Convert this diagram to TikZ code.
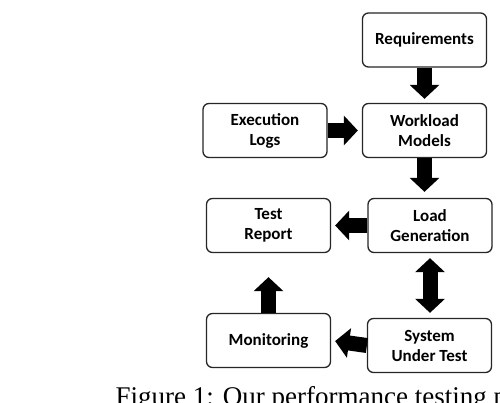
\documentclass[tikz,border=0pt]{standalone}
\usepackage{fontspec}
\setmainfont{Carlito}
\newfontfamily\capfont{Liberation Serif}
\usetikzlibrary{arrows.meta}

\begin{document}
\begin{tikzpicture}
	[x=1pt,y=-1pt,every node/.style={rectangle, rounded corners=6pt,
	draw=black!85, line width=1.3pt, fill=white,
	minimum width=124pt, minimum height=54pt, align=center,
	font=\fontsize{17}{20}\selectfont\bfseries},
	blk/.style={line width=15pt, draw=black, -{Triangle[length=14pt,width=29pt]}},
	blkboth/.style={line width=15pt, draw=black, {Triangle[length=14pt,width=29pt]}-{Triangle[length=14pt,width=29pt]}}]
	\useasboundingbox (0,0) rectangle (500,403);

	\node (req)  at (424.5,40)  {Requirements};
	\node (wl)   at (424.5,130.5) {Workload\\Models};
	\node (exec) at (265,130.5) {Execution\\Logs};
	\node (rep)  at (268.5,225.5) {Test\\Report};
	\node (load) at (430,225.5) {Load\\Generation};
	\node (mon)  at (268.5,340.5) {Monitoring};
	\node (sut)  at (429.5,345.5) {System\\Under Test};

	% block arrows, gap before the tip
	\foreach \from/\to/\gap in {req.south/wl.north/4, exec.east/wl.west/4,
	wl.south/wl.south |- load.north/6, load.west/rep.east/4,
	mon.north/rep.south/24, sut.west/mon.east/4}
	\draw[blk, shorten >=\gap pt] (\from) -- (\to);
	\draw[blkboth, shorten <=5pt, shorten >=5pt] (load.south) -- (load.south |- sut.north);

	% caption, cut at the page edge
	\node[draw=none, fill=none, rounded corners=0pt, minimum width=0pt,
	minimum height=0pt, inner sep=0pt, anchor=base west,
	font=\capfont\fontsize{27}{30}\selectfont] (cap) at (115,405)
	{Figure 1: Our performance testing p};
\end{tikzpicture}
\end{document}
